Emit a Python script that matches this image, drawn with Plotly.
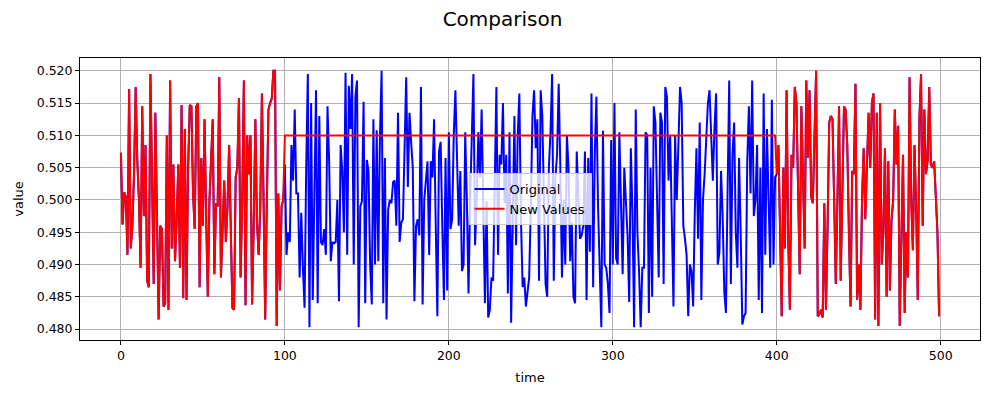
import plotly.graph_objects as go

original = [
    0.5073, 0.4962, 0.5012, 0.5005, 0.4915, 0.5172, 0.4925, 0.4960, 0.5040, 0.5175,
    0.5060, 0.5000, 0.4895, 0.5145, 0.4975, 0.5085, 0.4875, 0.4865, 0.5195, 0.5020,
    0.4870, 0.5135, 0.4980, 0.4815, 0.4960, 0.4955, 0.4835, 0.4840, 0.5100, 0.4830,
    0.5185, 0.4925, 0.5055, 0.4905, 0.4970, 0.5055, 0.4895, 0.5147, 0.4848, 0.5110,
    0.4845, 0.5050, 0.5147, 0.5145, 0.5010, 0.4955, 0.5145, 0.5150, 0.4865, 0.5065,
    0.4960, 0.5125, 0.4975, 0.4850, 0.5000, 0.5060, 0.5125, 0.4885, 0.4995, 0.4990,
    0.5190, 0.4880, 0.4960, 0.5030, 0.4935, 0.4990, 0.5085, 0.4975, 0.4833, 0.4830,
    0.5035, 0.5050, 0.5158, 0.4880, 0.5000, 0.5185, 0.4837, 0.5100, 0.5040, 0.5100,
    0.4838, 0.4960, 0.5125, 0.4965, 0.4915, 0.4990, 0.5165, 0.5000, 0.4815, 0.5000,
    0.5140, 0.5150, 0.5157, 0.5200, 0.5200, 0.4805, 0.5010, 0.4860, 0.4990, 0.5000,
    0.5055, 0.4915, 0.4950, 0.4935, 0.5085, 0.5030, 0.5140, 0.5010, 0.5010, 0.4880,
    0.4980, 0.4895, 0.4833, 0.5050, 0.5195, 0.4803, 0.5150, 0.4845, 0.5000, 0.5170,
    0.4840, 0.5130, 0.4935, 0.4930, 0.4955, 0.4915, 0.5145, 0.5060, 0.4905, 0.4935,
    0.4933, 0.4935, 0.5000, 0.4843, 0.5085, 0.5045, 0.4950, 0.5197, 0.4915, 0.5177,
    0.5110, 0.5195, 0.4900, 0.5160, 0.5185, 0.4803, 0.4990, 0.4998, 0.5152, 0.4840,
    0.5062, 0.5045, 0.4900, 0.4838, 0.5125, 0.4900, 0.5108, 0.4905, 0.5100, 0.5200,
    0.4840, 0.5065, 0.4815, 0.4985, 0.5000, 0.4995, 0.5028, 0.5030, 0.4960, 0.5135,
    0.4935, 0.4965, 0.4970, 0.5080, 0.5190, 0.5020, 0.5135, 0.5090, 0.5050, 0.4843,
    0.4960, 0.4970, 0.4945, 0.5175, 0.4838, 0.5000, 0.5025, 0.5060, 0.4915, 0.5060,
    0.5035, 0.5125, 0.4962, 0.4820, 0.5075, 0.5090, 0.4960, 0.4845, 0.5065, 0.4860,
    0.5105, 0.4955, 0.4970, 0.5100, 0.5170, 0.5050, 0.4960, 0.5045, 0.4890, 0.4900,
    0.5105, 0.5000, 0.4855, 0.5000, 0.5100, 0.5195, 0.4930, 0.5000, 0.5105, 0.5035,
    0.5140, 0.4960, 0.4840, 0.4998, 0.4818, 0.4830, 0.4880, 0.4875, 0.5050, 0.5175,
    0.4915, 0.5070, 0.5055, 0.5150, 0.4995, 0.5070, 0.4855, 0.5105, 0.4810, 0.4990,
    0.5130, 0.4930, 0.5100, 0.5165, 0.4970, 0.4865, 0.4880, 0.4835, 0.4860, 0.4880,
    0.4990, 0.5130, 0.5170, 0.5080, 0.5125, 0.4875, 0.5170, 0.5130, 0.5000, 0.4870,
    0.4850, 0.5050, 0.5105, 0.5195, 0.4875, 0.5035, 0.5070, 0.5180, 0.5050, 0.4880,
    0.5000, 0.4900, 0.5100, 0.5050, 0.4905, 0.4965, 0.4850, 0.4840, 0.5075, 0.5000,
    0.4940, 0.4945, 0.4960, 0.5075, 0.4845, 0.5065, 0.4920, 0.5165, 0.4865, 0.5070,
    0.5160, 0.4990, 0.4900, 0.4803, 0.5107, 0.4900, 0.4895, 0.4870, 0.4825, 0.5093,
    0.4900, 0.5150, 0.4910, 0.4900, 0.5105, 0.5000, 0.4885, 0.5050, 0.4990, 0.4945,
    0.4842, 0.5080, 0.4980, 0.4803, 0.5140, 0.4950, 0.4890, 0.4803, 0.4895, 0.4895,
    0.5105, 0.5100, 0.4825, 0.5050, 0.4850, 0.5145, 0.5120, 0.4995, 0.4880, 0.5135,
    0.5120, 0.4870, 0.5175, 0.5160, 0.5030, 0.5100, 0.4950, 0.4835, 0.5100, 0.5000,
    0.5085, 0.5175, 0.5150, 0.4960, 0.4940, 0.4915, 0.4820, 0.4900, 0.4890, 0.4835,
    0.4980, 0.5080, 0.4940, 0.5120, 0.4845, 0.5000, 0.5040, 0.5085, 0.5150, 0.5170,
    0.5110, 0.5030, 0.5110, 0.5165, 0.4900, 0.4918, 0.5045, 0.4975, 0.4858, 0.4825,
    0.5015, 0.5185, 0.4870, 0.5070, 0.5120, 0.4950, 0.4895, 0.5065, 0.4950, 0.4807,
    0.4820, 0.4825, 0.5060, 0.5145, 0.5010, 0.5185, 0.4975, 0.5000, 0.5085, 0.4845,
    0.5050, 0.4825, 0.5165, 0.4915, 0.5110, 0.5000, 0.4895, 0.5155, 0.4900, 0.5035,
    0.5040, 0.5085, 0.4960, 0.4820, 0.5050, 0.4925, 0.5170, 0.4940, 0.4830, 0.5070,
    0.5050, 0.5175, 0.5150, 0.4988, 0.4885, 0.5145, 0.5025, 0.4925, 0.5185, 0.5065,
    0.5170, 0.5005, 0.4995, 0.5100, 0.5200, 0.4820, 0.4823, 0.4830, 0.4818, 0.4995,
    0.4830, 0.4960, 0.5120, 0.5130, 0.5125, 0.5000, 0.4870, 0.5000, 0.5145, 0.4875,
    0.5000, 0.5145, 0.5140, 0.5085, 0.4950, 0.4835, 0.5045, 0.5040, 0.5180, 0.4845,
    0.4900, 0.4830, 0.5000, 0.5080, 0.4970, 0.5040, 0.5135, 0.5050, 0.5150, 0.5165,
    0.4815, 0.5135, 0.4805, 0.5150, 0.4900, 0.4950, 0.5080, 0.4850, 0.5060, 0.4860,
    0.4970, 0.5000, 0.5140, 0.5055, 0.5115, 0.4805, 0.4960, 0.5070, 0.4825, 0.4950,
    0.4880, 0.5190, 0.5000, 0.4922, 0.5085, 0.4990, 0.4845, 0.5125, 0.5195, 0.4960,
    0.5140, 0.5040, 0.5060, 0.5175, 0.5055, 0.5050, 0.5060, 0.5000, 0.4950, 0.4820,
]

replace_start = 100
replace_end = 400
replace_value = 0.51

time = list(range(len(original)))
new_values = [replace_value if replace_start <= t < replace_end else v
              for t, v in zip(time, original)]

y_ticks = [0.480, 0.485, 0.490, 0.495, 0.500, 0.505, 0.510, 0.515, 0.520]
x_ticks = [0, 100, 200, 300, 400, 500]

all_y = original + new_values
ymin, ymax = min(all_y), max(all_y)
ypad = 0.05 * (ymax - ymin)
xpad = 0.05 * (time[-1] - time[0])

fig = go.Figure()
fig.add_trace(go.Scatter(x=time, y=original, mode="lines", name="Original",
                         line=dict(color="#0000ff", width=2)))
fig.add_trace(go.Scatter(x=time, y=new_values, mode="lines", name="New Values",
                         line=dict(color="#ff0000", width=2)))

axis_common = dict(showline=True, linecolor="black", linewidth=1, mirror=True,
                   showgrid=True, gridcolor="#b0b0b0", gridwidth=0.8,
                   ticks="outside", ticklen=4, tickcolor="black",
                   zeroline=False, automargin=False,
                   tickfont=dict(size=12.5, color="black"))

fig.update_layout(
    width=989, height=396,
    paper_bgcolor="white", plot_bgcolor="white",
    font=dict(family="DejaVu Sans", color="black"),
    margin=dict(l=72, r=17, t=50, b=64),
    title=dict(text="Comparison", x=0.5, xanchor="center", yref="container",
               y=0.99, yanchor="top", font=dict(size=20)),
    xaxis=dict(range=[time[0] - xpad, time[-1] + xpad], tickvals=x_ticks,
               title=dict(text="time", font=dict(size=13), standoff=10), **axis_common),
    yaxis=dict(range=[ymin - ypad, ymax + ypad], tickvals=y_ticks,
               tickformat=".3f",
               title=dict(text="value", font=dict(size=13), standoff=10), **axis_common),
    legend=dict(x=0.5, y=0.5, xanchor="center", yanchor="middle",
                bgcolor="rgba(255,255,255,0.8)", bordercolor="#cccccc", borderwidth=1,
                font=dict(size=13), itemwidth=30),
    showlegend=True,
)

fig.write_html("out.html")
